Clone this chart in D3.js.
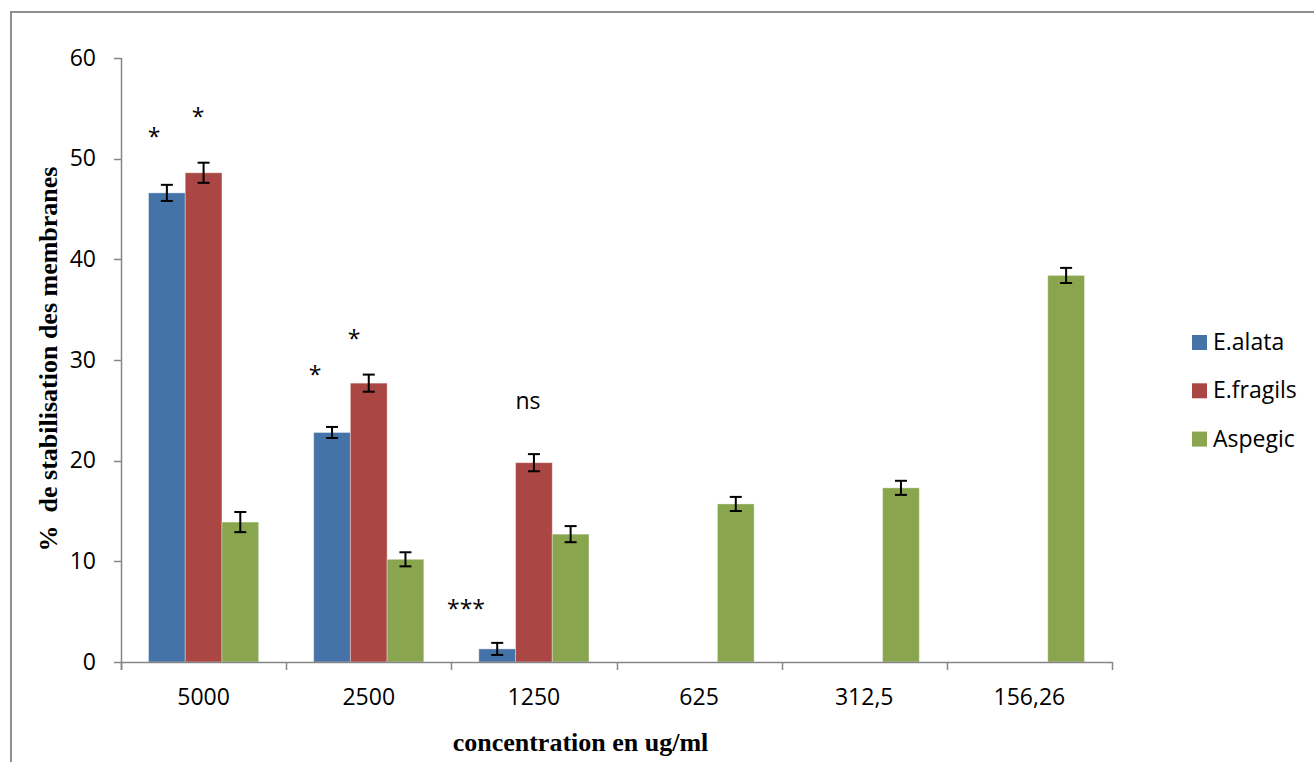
<!DOCTYPE html>
<html>
<head>
<meta charset="utf-8">
<script src="https://cdn.jsdelivr.net/npm/d3@7"></script>
<style>
  html, body { margin: 0; padding: 0; background: #fff; }
  svg { display: block; }
</style>
</head>
<body>
<svg id="chart" width="1314" height="762"></svg>
<script>
// Concentrations (µg/ml) on the category axis
const categories = ["5000", "2500", "1250", "625", "312,5", "156,26"];

// Series names as shown in the legend
const seriesNames = ["E.alata", "E.fragils", "Aspegic"];

// % membrane stabilisation per concentration (null = not tested)
const alata      = [46.6, 22.8, 1.3, null, null, null];
const fragils    = [48.6, 27.7, 19.8, null, null, null];
const aspegic    = [13.9, 10.2, 12.7, 15.7, 17.3, 38.4];

// Standard errors
const alataErr   = [0.8, 0.55, 0.6, null, null, null];
const fragilsErr = [1.0, 0.85, 0.85, null, null, null];
const aspegicErr = [1.0, 0.7, 0.8, 0.7, 0.7, 0.75];

// Y axis ticks
const yTicks = [0, 10, 20, 30, 40, 50, 60];

// Significance marks: text, position along the category axis (in category units), level (in %)
const marks = [
  { text: "*",   at: 0.200, level: 52.7 },
  { text: "*",   at: 0.466, level: 54.7 },
  { text: "*",   at: 1.175, level: 29.1 },
  { text: "*",   at: 1.411, level: 32.6 },
  { text: "***", at: 2.089, level: 5.8 },
  { text: "ns",  at: 2.464, level: 25.7 }
];

const colors = ["#4572A7", "#AA4643", "#89A54E"];
const values = [alata, fragils, aspegic];
const errors = [alataErr, fragilsErr, aspegicErr];

const svg = d3.select("#chart");
const axisColor = "#868686";
const tickFont = "'Open Sans', 'Noto Sans', sans-serif";
const titleFont = "'Liberation Serif', 'Times New Roman', serif";

// Outer chart frame
svg.append("rect")
  .attr("x", 11).attr("y", 12)
  .attr("width", 1340).attr("height", 800)
  .attr("fill", "none")
  .attr("stroke", "#8f8f8f")
  .attr("stroke-width", 2);

const plot = { left: 121, right: 1112, top: 58, bottom: 662 };

const x0 = d3.scaleBand().domain(categories).range([plot.left, plot.right]).padding(0);
const x1 = d3.scaleBand().domain(seriesNames).range([0, x0.bandwidth()])
  .paddingInner(0).paddingOuter(0.75);
const xc = d3.scaleLinear().domain([0, categories.length]).range([plot.left, plot.right]);
const y = d3.scaleLinear().domain([0, 60]).range([plot.bottom, plot.top]);

// Bars
const rows = [];
seriesNames.forEach((s, si) => {
  categories.forEach((c, ci) => {
    const v = values[si][ci];
    if (v != null) rows.push({ s, si, c, v, e: errors[si][ci] });
  });
});

svg.append("g").selectAll("rect")
  .data(rows)
  .join("rect")
  .attr("x", d => x0(d.c) + x1(d.s))
  .attr("y", d => y(d.v))
  .attr("width", x1.bandwidth())
  .attr("height", d => y(0) - y(d.v))
  .attr("fill", d => colors[d.si])
  .attr("stroke", "rgba(255,255,255,0.35)")
  .attr("stroke-width", 1);

// Y axis
const yAxis = svg.append("g");
yAxis.append("line")
  .attr("x1", plot.left + 0.5).attr("x2", plot.left + 0.5)
  .attr("y1", y(60)).attr("y2", plot.bottom + 8)
  .attr("stroke", axisColor).attr("stroke-width", 1.5);
yAxis.selectAll("line.tick")
  .data(yTicks)
  .join("line")
  .attr("class", "tick")
  .attr("x1", plot.left - 7).attr("x2", plot.left)
  .attr("y1", d => Math.round(y(d)) + 0.5).attr("y2", d => Math.round(y(d)) + 0.5)
  .attr("stroke", axisColor).attr("stroke-width", 1.5);
yAxis.selectAll("text")
  .data(yTicks)
  .join("text")
  .attr("x", 96)
  .attr("y", d => y(d) + 7.5)
  .attr("text-anchor", "end")
  .attr("font-family", tickFont)
  .attr("font-size", 23)
  .attr("fill", "#000")
  .text(d => d);

// X axis
const xAxis = svg.append("g");
xAxis.append("line")
  .attr("x1", plot.left).attr("x2", plot.right + 0.5)
  .attr("y1", plot.bottom + 0.5).attr("y2", plot.bottom + 0.5)
  .attr("stroke", axisColor).attr("stroke-width", 1.5);
const bounds = categories.map(c => x0(c)).concat([plot.right]);
xAxis.selectAll("line.tick")
  .data(bounds)
  .join("line")
  .attr("class", "tick")
  .attr("x1", d => Math.round(d) + 0.5).attr("x2", d => Math.round(d) + 0.5)
  .attr("y1", plot.bottom).attr("y2", plot.bottom + 8)
  .attr("stroke", axisColor).attr("stroke-width", 1.5);
xAxis.selectAll("text")
  .data(categories)
  .join("text")
  .attr("x", d => x0(d) + x0.bandwidth() / 2)
  .attr("y", 705)
  .attr("text-anchor", "middle")
  .attr("font-family", tickFont)
  .attr("font-size", 23)
  .attr("fill", "#000")
  .text(d => d);

// Error bars
const eb = svg.append("g").attr("stroke", "#000").attr("stroke-width", 2);
rows.filter(d => d.e != null).forEach(d => {
  const cx = x0(d.c) + x1(d.s) + x1.bandwidth() / 2;
  const yt = y(d.v + d.e), yb = y(d.v - d.e);
  eb.append("line").attr("x1", cx).attr("x2", cx).attr("y1", yt).attr("y2", yb);
  eb.append("line").attr("x1", cx - 6).attr("x2", cx + 6).attr("y1", yt).attr("y2", yt);
  eb.append("line").attr("x1", cx - 6).attr("x2", cx + 6).attr("y1", yb).attr("y2", yb);
});

// Significance marks
svg.append("g").selectAll("text")
  .data(marks)
  .join("text")
  .attr("x", d => xc(d.at))
  .attr("y", d => y(d.level))
  .attr("dy", d => d.text.startsWith("*") ? "0.59em" : "0.27em")
  .attr("text-anchor", "middle")
  .attr("font-family", tickFont)
  .attr("font-size", 23)
  .attr("fill", "#000")
  .text(d => d.text);

// Axis titles
svg.append("text")
  .attr("transform", "translate(57,359) rotate(-90)")
  .attr("text-anchor", "middle")
  .attr("font-family", titleFont)
  .attr("font-weight", "bold")
  .attr("font-size", 26)
  .attr("fill", "#000")
  .attr("xml:space", "preserve")
  .style("white-space", "pre")
  .text("%  de stabilisation des membranes");

svg.append("text")
  .attr("x", 580.5)
  .attr("y", 751)
  .attr("text-anchor", "middle")
  .attr("font-family", titleFont)
  .attr("font-weight", "bold")
  .attr("font-size", 26)
  .attr("fill", "#000")
  .text("concentration en ug/ml");

// Legend
const legend = svg.append("g");
seriesNames.forEach((s, i) => {
  const ly = 335 + i * 48.3;
  legend.append("rect")
    .attr("x", 1192).attr("y", ly)
    .attr("width", 15).attr("height", 15)
    .attr("fill", colors[i]);
  legend.append("text")
    .attr("x", 1213).attr("y", ly + 15)
    .attr("font-family", tickFont)
    .attr("font-size", 23)
    .attr("fill", "#000")
    .text(s);
});
</script>
</body>
</html>
